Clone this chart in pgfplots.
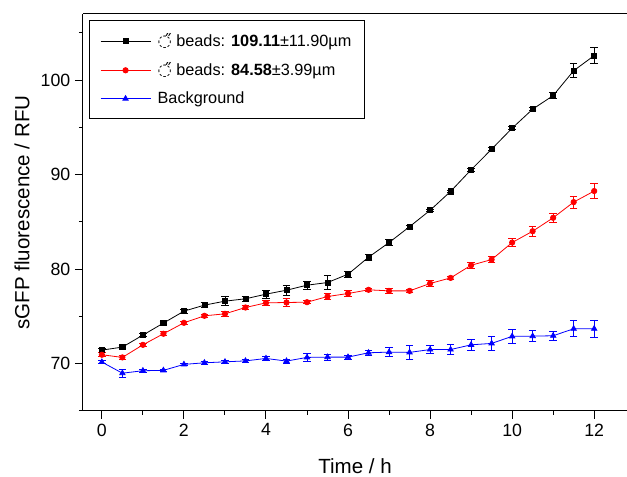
\documentclass[border=0pt]{standalone}
\usepackage{pgfplots}
\pgfplotsset{compat=1.18}
\usepackage{pgfplotstable}
\usepackage{fontspec}
\setmainfont{Liberation Sans}
\newfontfamily\symfont{DejaVu Sans}

\pgfplotstableread{
x y e
0 71.44 0.2
0.5 71.76 0.15
1 73.03 0.15
1.5 74.30 0.15
2 75.56 0.2
2.5 76.20 0.25
3 76.62 0.5
3.5 76.87 0.25
4 77.36 0.45
4.5 77.78 0.56
5 78.31 0.4
5.5 78.59 0.72
6 79.47 0.35
6.5 81.27 0.3
7 82.82 0.3
7.5 84.50 0.15
8 86.23 0.15
8.5 88.23 0.15
9 90.52 0.15
9.5 92.70 0.15
10 94.92 0.15
10.5 96.93 0.15
11 98.37 0.3
11.5 101.00 0.75
12 102.60 0.86
}\blackdata

\pgfplotstableread{
x y e
0 70.95 0.2
0.5 70.67 0.2
1 72.00 0.2
1.5 73.17 0.2
2 74.33 0.2
2.5 75.07 0.2
3 75.28 0.3
3.5 75.95 0.25
4 76.44 0.3
4.5 76.48 0.4
5 76.51 0.15
5.5 77.11 0.35
6 77.43 0.3
6.5 77.82 0.2
7 77.71 0.25
7.5 77.71 0.2
8 78.49 0.3
8.5 79.08 0.2
9 80.42 0.3
9.5 81.02 0.35
10 82.82 0.45
10.5 84.02 0.5
11 85.44 0.45
11.5 87.10 0.62
12 88.27 0.77
}\reddata

\pgfplotstableread{
x y e
0 70.18 0.15
0.5 69.00 0.45
1 69.26 0.15
1.5 69.30 0.15
2 69.93 0.15
2.5 70.10 0.15
3 70.20 0.2
3.5 70.30 0.2
4 70.56 0.2
4.5 70.28 0.2
5 70.67 0.45
5.5 70.70 0.3
6 70.70 0.2
6.5 71.16 0.25
7 71.23 0.45
7.5 71.20 0.78
8 71.50 0.45
8.5 71.50 0.55
9 72.00 0.55
9.5 72.15 0.7
10 72.90 0.72
10.5 72.92 0.58
11 72.96 0.45
11.5 73.70 0.86
12 73.70 0.9
}\bluedata

\begin{document}
\begin{tikzpicture}
\useasboundingbox (-62.25pt,-49.5pt) rectangle (408pt,308.25pt);
\begin{axis}[
  at={(0,0)}, anchor=south west,
  width=408pt, height=297.75pt, scale only axis,
  xmin=-0.46, xmax=12.8, ymin=65, ymax=107,
  axis x line*=box, axis y line*=left,
  xtick pos=left,
  xtick={0,2,...,12}, minor xtick={1,3,...,11},
  ytick={70,80,90,100}, minor ytick={65,75,85,95,105},
  tick align=outside, major tick length=6pt, minor tick length=3pt,
  tick style={black, line width=0.75pt},
  axis line style={line width=0.75pt},
  tick label style={font=\fontsize{13.3}{16}\selectfont},
  /pgf/number format/assume math mode=true,
  xlabel={Time / h}, ylabel={sGFP fluorescence / RFU},
  label style={font=\fontsize{15.4}{18}\selectfont},
  xlabel style={at={(axis description cs:0.5,-0.138)}, anchor=center},
  ylabel style={at={(axis description cs:-0.112,0.5)}, anchor=center},
  legend style={at={(axis description cs:0.011,0.985)}, anchor=north west,
    draw=black, line width=0.75pt, font=\fontsize{12.2}{14}\selectfont,
    row sep=6.5pt, inner xsep=8pt, inner ysep=8pt},
  legend cell align=left,
  legend image code/.code={\draw[mark repeat=2,mark phase=2,line width=0.6pt] plot coordinates {(0pt,0pt) (18.75pt,0pt) (37.5pt,0pt)};},
  error bars/error bar style={line width=0.6pt},
  error bars/error mark options={rotate=90, mark size=2.8pt, line width=0.6pt},
]
\addplot[black, line width=0.6pt, mark=square*, mark size=1.9pt,
  error bars/.cd, y dir=both, y explicit]
  table[x=x, y=y, y error=e] {\blackdata};
\addlegendentry{\hspace{3pt}{\symfont ◌̋} beads: \textbf{109.11}±11.90µm\hspace{4pt}}
\addplot[red, line width=0.6pt, mark=*, mark size=2pt,
  error bars/.cd, y dir=both, y explicit]
  table[x=x, y=y, y error=e] {\reddata};
\addlegendentry{\hspace{3pt}{\symfont ◌̋} beads: \textbf{84.58}±3.99µm}
\addplot[blue, line width=0.6pt, mark=triangle*, mark size=2.3pt,
  error bars/.cd, y dir=both, y explicit]
  table[x=x, y=y, y error=e] {\bluedata};
\addlegendentry{\hspace{3pt}Background}
\end{axis}
\end{tikzpicture}
\end{document}
